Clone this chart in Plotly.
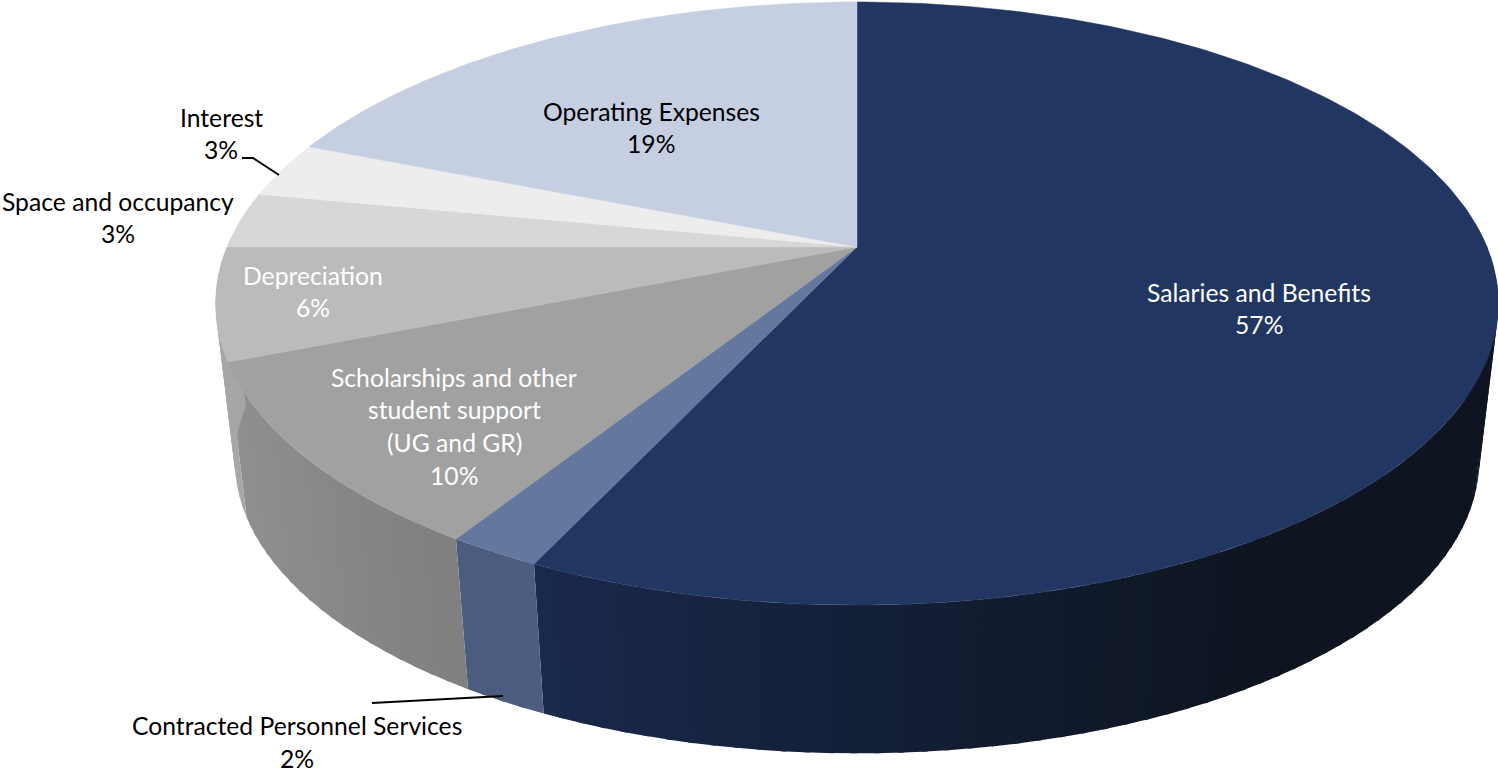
import math
import plotly.graph_objects as go

# Budget shares by category, clockwise from twelve o'clock
categories = [
    "Salaries and Benefits",
    "Contracted Personnel Services",
    "Scholarships and other<br>student support<br>(UG and GR)",
    "Depreciation",
    "Space and occupancy",
    "Interest",
    "Operating Expenses",
]
shares = [57, 2, 10, 6, 3, 3, 19]

top_colors = ["#213660", "#64789f", "#a1a1a1", "#bbbbbb", "#d7d7d7", "#ededed", "#c6cfe2"]
# Side wall colour at the left and right screen ends of each slice
wall_left = ["#19294c", "#4b5c7e", "#8f8f8f", "#a6a6a6", "#a6a6a6", "#a6a6a6", "#a6a6a6"]
wall_right = ["#0e1521", "#4d5d80", "#7f7f7f", "#a0a0a0", "#a0a0a0", "#a0a0a0", "#a0a0a0"]
label_colors = ["#ffffff", "#000000", "#ffffff", "#ffffff", "#000000", "#000000", "#000000"]
# Centre of the first text line of each label, and the line pitch
label_anchor = [(1259, 292), (297, 725.5), (454, 377), (313, 275), (118, 201), (221, 117), (651, 111)]
LINE_PITCH = 32.8

# Perspective disc: hub position, radii in pixels, foreshortening strength
CX, CY = 857.0, 247.0
RX, RY = 630.0, 291.0
PERSP = 0.1874
DEPTH_DROP = 159.0
DEPTH_SCALE = 0.97
# Only this cumulative range of the rim shows a side wall
WALL_FROM, WALL_TO = 24.0, 75.0


def project(share_pos, floor=False):
    """Screen position of a rim point at a cumulative percentage."""
    ang = 2 * math.pi * share_pos / 100.0
    gx, gy = math.sin(ang), math.cos(ang)
    w = 1 + PERSP * gy
    s = DEPTH_SCALE if floor else 1.0
    drop = DEPTH_DROP if floor else 0.0
    return CX + s * RX * gx / w, CY + drop - s * RY * gy / w


def mix(c0, c1, t):
    t = max(0.0, min(1.0, t))
    a = [int(c0[i:i + 2], 16) for i in (1, 3, 5)]
    b = [int(c1[i:i + 2], 16) for i in (1, 3, 5)]
    return "rgb(%d,%d,%d)" % tuple(round(p + (q - p) * t) for p, q in zip(a, b))


def polygon(xs, ys, color, line=0.0):
    return go.Scatter(
        x=xs, y=ys, mode="lines", fill="toself", fillcolor=color,
        line=dict(color=color, width=line), hoverinfo="skip", showlegend=False,
    )


fig = go.Figure()

# Running cumulative boundaries for the slices
bounds = [0]
for v in shares:
    bounds.append(bounds[-1] + v)

# Side walls, split into thin bands to carry the shading.
# Each band runs slightly under the next one, so no seam shows through.
for i, v in enumerate(shares):
    start = max(bounds[i], WALL_FROM)
    end = min(bounds[i + 1], WALL_TO)
    if end <= start:
        continue
    n = max(4, round((end - start) * 2))
    x_left = project(end)[0]
    x_right = project(max(start, 25.0))[0]
    for k in range(n):
        p0 = start + (end - start) * k / n
        p1 = start + (end - start) * (k + 1) / n
        steps = [p0 + (p1 - p0) * j / 4 for j in range(5)]
        if k < n - 1:
            steps.append(p1 + (end - start) / n * 0.25)
        top = [project(p) for p in steps]
        low = [project(p, floor=True) for p in reversed(steps)]
        pts = top + low + [top[0]]
        xm = project((p0 + p1) / 2)[0]
        t = (xm - x_left) / max(1.0, x_right - x_left)
        # The darkest tone on the salaries wall is reached before its right end
        if i == 0:
            t *= 1.35
        fig.add_trace(polygon([q[0] for q in pts], [q[1] for q in pts],
                              mix(wall_left[i], wall_right[i], t)))

# Top face of every slice
for i, v in enumerate(shares):
    n = max(12, v * 4)
    rim = [project(bounds[i] + v * j / n) for j in range(n + 1)]
    pts = [(CX, CY)] + rim + [(CX, CY)]
    fig.add_trace(polygon([q[0] for q in pts], [q[1] for q in pts], top_colors[i], 0.5))

# Leader lines for the two labels set outside the disc
for xs, ys in (([242, 253, 279], [158, 158, 175]), ([372, 503], [703, 696])):
    fig.add_trace(go.Scatter(x=xs, y=ys, mode="lines", line=dict(color="#000000", width=2),
                             hoverinfo="skip", showlegend=False))

# Labels, one annotation per line to hold the line pitch
annotations = []
for name, v, color, (ax, ay) in zip(categories, shares, label_colors, label_anchor):
    for j, line in enumerate(name.split("<br>") + [f"{v}%"]):
        annotations.append(dict(
            x=ax, y=ay + j * LINE_PITCH, text=line, showarrow=False,
            xanchor="center", yanchor="middle", xref="x", yref="y",
            font=dict(family="Lato", size=24.7, color=color),
        ))

fig.update_layout(
    width=1498, height=772, margin=dict(l=0, r=0, t=0, b=0),
    paper_bgcolor="#ffffff", plot_bgcolor="#ffffff",
    xaxis=dict(range=[0, 1498], visible=False, fixedrange=True),
    yaxis=dict(range=[772, 0], visible=False, fixedrange=True),
    annotations=annotations, showlegend=False,
)

fig.write_html("out.html", config={"displayModeBar": False})
